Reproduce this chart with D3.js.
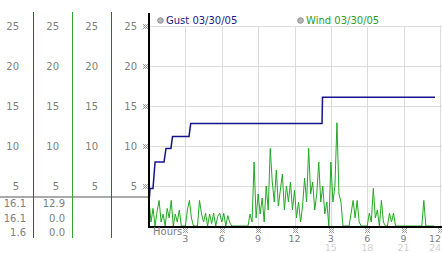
<!DOCTYPE html>
<html>
<head>
<meta charset="utf-8">
<script src="https://cdn.jsdelivr.net/npm/d3@7"></script>
<style>
  body { margin: 0; background: #fff; }
  svg { display: block; font-family: "DejaVu Sans", Verdana, sans-serif; }
</style>
</head>
<body>
<script>
// tick values and labels
var yTicks = [5, 10, 15, 20, 25];
var hourTicks = [3, 6, 9, 12, 15, 18, 21, 24];
var hourLabels = ["3", "6", "9", "12", "3", "6", "9", "12"];
var hourLabels24 = ["", "", "", "", "15", "18", "21", "24"];

// gust series (hours, mph)
var gustHours  = [0.04, 0.08, 0.33, 0.5, 1.24, 1.4, 1.81, 1.94, 3.3, 3.44, 14.27, 14.31, 23.59];
var gustValues = [3.6, 4.7, 4.7, 8.0, 8.0, 9.7, 9.7, 11.2, 11.2, 12.8, 12.8, 16.1, 16.1];

// wind series, one reading every 10 minutes from 0h
var windValues = [
  3.2, 0.5, 2.2, 0, 1.8, 3.2,
  0.5, 1.5, 0, 2.2, 1, 3.2,
  0, 1.5, 0.5, 2, 0, 0,
  0, 2, 3.2, 1, 0, 0,
  0, 3.2, 1.5, 0.5, 1.6, 0,
  1.5, 0.3, 1.6, 0, 1.2, 1.6,
  0.5, 1.6, 0, 1.3, 0.4, 0,
  0, 0, 0, 0, 0, 0,
  0, 0, 1.5, 0.5, 8, 1,
  4, 1.5, 3.5, 0.5, 5, 2,
  9.7, 5.5, 3, 7, 2.5, 4.5,
  6.5, 2, 5, 3, 5.5, 2,
  4.5, 1, 3, 0.5, 2.5, 6,
  3, 9.7, 4, 5.5, 2, 4,
  8, 3, 5, 1.5, 3, 0,
  8, 3, 5, 12.9, 4, 3,
  0, 0, 0, 0, 1.6, 3.2,
  1, 3.2, 0.5, 0, 0, 0,
  0, 1.6, 0.5, 4.7, 1, 2,
  0, 3.2, 0.5, 0, 0, 1.6,
  0.5, 1.6, 0, 0, 0, 0,
  0, 0, 0, 0, 0, 0,
  0, 0, 0, 0, 3.2, 0,
  0, 0, 0, 0
];
var windStep = 1 / 6;

// readouts under the side columns
var gustReadout = ["16.1", "16.1", "1.6"];
var windReadout = ["12.9", "0.0", "0.0"];

var width = 442, height = 253;
var svg = d3.select("body").append("svg")
    .attr("width", width)
    .attr("height", height);

var x = d3.scaleLinear().domain([0, 24]).range([149, 440]);
var y = d3.scaleLinear().domain([0, 25]).range([226, 26]);

function tickMark(g, cx, cy) {
    // small dotted marker used next to ticks
    for (var i = 0; i < 5; i++) {
        for (var j = 0; j < 5; j++) {
            if ((i + j) % 2 == 0) {
                g.append("rect")
                    .attr("x", Math.round(cx) - 2 + i)
                    .attr("y", Math.round(cy) - 2 + j)
                    .attr("width", 1).attr("height", 1)
                    .attr("fill", (i == 2 || j == 2) ? "#bbb" : "#999");
            }
        }
    }
}

// grid
var grid = svg.append("g");
grid.selectAll(".hg").data(yTicks).enter().append("line")
    .attr("x1", 150).attr("x2", 442)
    .attr("y1", function(d) { return y(d) + 0.5; })
    .attr("y2", function(d) { return y(d) + 0.5; })
    .attr("stroke", "#dcdcdc");
grid.selectAll(".vg").data(hourTicks).enter().append("line")
    .attr("x1", function(d) { return Math.round(x(d)) + 0.5; })
    .attr("x2", function(d) { return Math.round(x(d)) + 0.5; })
    .attr("y1", y(25)).attr("y2", 226)
    .attr("stroke", "#dcdcdc");

// side columns
var colLines = [33, 72, 111];
var colColors = ["#2a4db0", "#33a533", "#b42a2a"];
var labelRight = [19, 59, 98, 137];

svg.append("line")
    .attr("x1", 0).attr("x2", 149)
    .attr("y1", 197).attr("y2", 197)
    .attr("stroke", "#aaa").attr("stroke-width", 2);

colLines.forEach(function(cx, i) {
    svg.append("line")
        .attr("x1", cx + 0.5).attr("x2", cx + 0.5)
        .attr("y1", 12).attr("y2", 238)
        .attr("stroke", colColors[i]);
});

labelRight.forEach(function(rx) {
    svg.append("g").selectAll("text").data(yTicks).enter().append("text")
        .attr("x", rx)
        .attr("y", function(d) { return y(d) + 4; })
        .attr("text-anchor", "end")
        .attr("font-size", 10)
        .attr("fill", "#808080")
        .text(function(d) { return d; });
});

[gustReadout, windReadout].forEach(function(vals, i) {
    svg.append("g").selectAll("text").data(vals).enter().append("text")
        .attr("x", colLines[i] - 7)
        .attr("y", function(d, k) { return [207, 222, 236][k]; })
        .attr("text-anchor", "end")
        .attr("font-size", 10)
        .attr("fill", "#808080")
        .text(function(d) { return d; });
});

// y tick markers
yTicks.forEach(function(t) { tickMark(svg, 145, y(t)); });

// series
var gust = gustHours.map(function(h, i) { return [h, gustValues[i]]; });
var wind = windValues.map(function(v, i) { return [i * windStep, v]; });

var line = d3.line()
    .x(function(d) { return x(d[0]); })
    .y(function(d) { return y(d[1]); });

svg.append("path")
    .datum(wind)
    .attr("d", line)
    .attr("fill", "none")
    .attr("stroke", "#22a822")
    .attr("stroke-width", 1);

svg.append("path")
    .datum(gust)
    .attr("d", line)
    .attr("fill", "none")
    .attr("stroke", "#14148c")
    .attr("stroke-width", 1.5);

// axes lines
svg.append("line")
    .attr("x1", 149).attr("x2", 149)
    .attr("y1", 13).attr("y2", 227)
    .attr("stroke", "#000").attr("stroke-width", 2);
svg.append("line")
    .attr("x1", 148).attr("x2", 442)
    .attr("y1", 227).attr("y2", 227)
    .attr("stroke", "#000").attr("stroke-width", 2);

// x axis labels
svg.append("text")
    .attr("x", 153).attr("y", 235)
    .attr("font-size", 10).attr("fill", "#808080")
    .text("Hours");

hourTicks.forEach(function(t) { tickMark(svg, x(t), 230); });

function labelX(d) { return Math.min(x(d), 435); }

svg.append("g").selectAll("text").data(hourTicks).enter().append("text")
    .attr("x", labelX)
    .attr("y", 242)
    .attr("text-anchor", "middle")
    .attr("font-size", 9.5).attr("fill", "#808080")
    .text(function(d, i) { return hourLabels[i]; });

svg.append("g").selectAll("text").data(hourTicks).enter().append("text")
    .attr("x", labelX)
    .attr("y", 251)
    .attr("text-anchor", "middle")
    .attr("font-size", 9.5).attr("fill", "#d0d0d0")
    .text(function(d, i) { return hourLabels24[i]; });

// legend
var legend = [
    { label: "Gust 03/30/05", color: "#1a1a8c", x: 160.5 },
    { label: "Wind 03/30/05", color: "#2a9d2a", x: 300.5 }
];
legend.forEach(function(l) {
    svg.append("circle")
        .attr("cx", l.x).attr("cy", 20.5).attr("r", 2.8)
        .attr("fill", "#b8b8b8").attr("stroke", "#8c8c8c");
    svg.append("text")
        .attr("x", l.x + 5.5).attr("y", 24)
        .attr("font-size", 10).attr("fill", l.color)
        .text(l.label);
});
</script>
</body>
</html>
